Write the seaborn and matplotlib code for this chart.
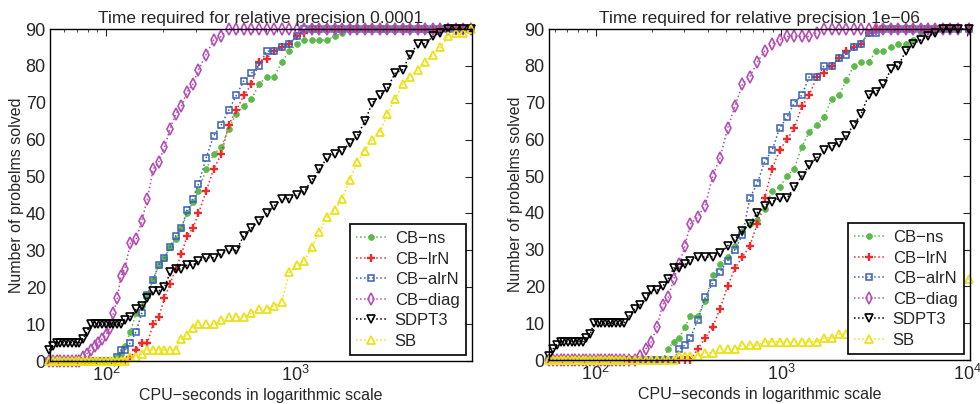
import matplotlib
matplotlib.use("Agg")
import matplotlib.pyplot as plt
import seaborn as sns

# CPU-time thresholds (seconds) at which the profiles were sampled
t_prec4 = [50.1, 52.5, 55.0, 57.5, 60.3, 63.1, 66.1, 69.2, 72.4, 75.9,
           79.4, 83.2, 87.1, 91.2, 95.5, 100, 104.7, 109.6, 114.8, 120.2,
           125.9, 134.9, 144.5, 154.9, 166.0, 177.8, 190.5, 204.2, 218.8, 234.4,
           251.2, 269.2, 288.4, 309.0, 338.8, 371.5, 407.4, 446.7, 489.8, 537.0,
           588.8, 645.7, 707.9, 776.2, 851.1, 933.3, 1023, 1122, 1230, 1349,
           1479, 1622, 1778, 1950, 2138, 2344, 2570, 2818, 3090, 3388,
           3715, 4074, 4467, 4898, 5370, 5888, 6457, 7079, 7762, 8511]
t_prec6 = [56.2, 58.9, 61.7, 64.6, 67.6, 70.8, 74.1, 77.6, 81.3, 85.1,
           89.1, 93.3, 97.7, 102.3, 107.2, 112.2, 117.5, 123.0, 128.8, 134.9,
           141.3, 151.4, 162.2, 173.8, 186.2, 199.5, 213.8, 229.1, 245.5, 263.0,
           281.8, 302.0, 323.6, 354.8, 389.0, 426.6, 467.7, 512.9, 562.3, 616.6,
           676.1, 741.3, 812.8, 891.3, 977.2, 1072, 1175, 1288, 1413, 1549,
           1698, 1862, 2042, 2239, 2455, 2692, 2951, 3236, 3548, 3890,
           4266, 4677, 5129, 5623, 6166, 6761, 7413, 8128, 8913, 10233]

names = ["CB−ns", "CB−lrN", "CB−alrN", "CB−diag", "SDPT3", "SB"]

# number of problems solved, precision 1e-4
ns_4 = [0]*18 + [1, 2, 4, 8, 13, 15, 18, 22, 26, 28, 31, 33, 36, 40, 43, 46, 52, 56,
                 58, 63, 67, 69, 71, 75, 77, 77, 81, 84, 86, 87, 87, 87, 87, 88, 89] + [90]*17
lrn_4 = [0]*21 + [1, 3, 5, 5, 10, 12, 17, 21, 25, 29, 34, 36, 40, 46, 52, 56, 64, 68,
                  72, 75, 81, 82, 84, 85, 86, 88, 89] + [90]*22
alrn_4 = [0]*18 + [1, 3, 3, 5, 8, 13, 18, 22, 26, 28, 31, 34, 36, 41, 44, 48, 55, 61,
                   64, 68, 72, 76, 78, 80, 84, 84, 85, 86, 88] + [90]*23
diag_4 = [0]*9 + [1, 2, 3, 4, 5, 6, 7, 9, 13, 17, 23, 25, 32, 33, 38, 44, 52, 54, 58,
                  63, 67, 69, 73, 75, 79, 83, 87, 88] + [90]*33
sdpt_4 = [3, 4, 5, 5, 5, 5, 5, 5, 5, 6, 8, 10, 10, 10, 10, 10, 10, 10, 10, 10,
          11, 12, 14, 15, 17, 19, 19, 20, 24, 25, 25, 26, 26, 27, 28, 28, 29, 30, 30, 34,
          36, 38, 40, 42, 44, 44, 45, 46, 49, 52, 55, 56, 57, 59, 61, 65, 70, 72, 74, 78,
          79, 83, 86, 86, 88, 89, 90, 90, 90, 90]
sb_4 = [0]*21 + [1, 1, 2, 3, 3, 3, 3, 3, 3, 6, 7, 9, 10, 10, 10, 11, 12, 12, 12, 13,
                 14, 14, 15, 16, 24, 26, 27, 31, 35, 39, 41, 44, 49, 54, 57, 60, 62, 67, 71,
                 75, 77, 79, 81, 83, 85, 88, 89, 89, 90]

# number of problems solved, precision 1e-6
ns_6 = [0]*28 + [3, 5, 6, 9, 12, 12, 16, 23, 26, 28, 31, 35, 37, 38, 41, 46, 47, 50,
                 52, 58, 62, 64, 66, 71, 72, 76, 80, 81, 81, 84, 84, 85, 86, 86, 87, 89] + [90]*6
lrn_6 = [0]*33 + [3, 6, 9, 14, 20, 25, 28, 31, 37, 44, 52, 57, 60, 63, 69, 72, 77, 78,
                  80, 82, 84, 85, 86, 89] + [90]*13
alrn_6 = [0]*30 + [3, 4, 6, 11, 17, 21, 24, 27, 30, 34, 44, 48, 54, 57, 63, 66, 70, 72,
                   77, 77, 80, 80, 82, 83, 85, 86, 89, 89] + [90]*12
diag_6 = [0]*23 + [1, 3, 5, 9, 15, 17, 22, 26, 31, 37, 39, 42, 50, 55, 63, 69, 75, 77,
                   81, 84, 86, 87, 88, 88, 88, 88, 89] + [90]*20
sdpt_6 = [1, 3, 4, 5, 5, 5, 5, 5, 5, 5, 6, 7, 10, 10, 10, 10, 10, 10, 10, 10,
          10, 12, 14, 15, 17, 19, 19, 20, 22, 25, 25, 26, 27, 28, 28, 28, 29, 31, 33, 35,
          37, 40, 42, 43, 44, 44, 47, 50, 53, 55, 57, 58, 59, 61, 64, 67, 72, 73, 75, 79,
          80, 84, 86, 87, 88, 89, 90, 90, 90, 90]
sb_6 = [0]*30 + [1, 1, 1, 1, 2, 2, 3, 3, 3, 4, 4, 4, 5, 5, 5, 5, 5, 5, 5, 5,
                 6, 6, 7, 7, 8, 9, 10, 10, 11, 12, 13, 14, 15, 16, 17, 18, 19, 20, 21, 22]

green, red, blue, magenta, yellow = "#5db94a", "#ee2a2a", "#3a60b5", "#b64fb3", "#ece21c"
styles = {
    "CB−ns": dict(color=green, marker="o", markersize=4.2, markerfacecolor=green,
                  markeredgecolor=green, markeredgewidth=0.5),
    "CB−lrN": dict(color=red, marker="+", markersize=5.5, markerfacecolor=red,
                   markeredgecolor=red, markeredgewidth=1.7),
    "CB−alrN": dict(color=blue, marker="s", markersize=4.2, markerfacecolor="none",
                    markeredgecolor=blue, markeredgewidth=1.1),
    "CB−diag": dict(color=magenta, marker="d", markersize=5.8, markerfacecolor="none",
                    markeredgecolor=magenta, markeredgewidth=1.2),
    "SDPT3": dict(color="black", marker="v", markersize=5.5, markerfacecolor="none",
                  markeredgecolor="black", markeredgewidth=1.2),
    "SB": dict(color=yellow, marker="^", markersize=5.5, markerfacecolor="none",
               markeredgecolor=yellow, markeredgewidth=1.3),
}

sns.set_style("white")
plt.rcParams["font.family"] = ["Liberation Sans", "DejaVu Sans"]
plt.rcParams["mathtext.fontset"] = "custom"
plt.rcParams["mathtext.rm"] = "Liberation Sans"
plt.rcParams["mathtext.it"] = "Liberation Sans"

fig = plt.figure(figsize=(9.8, 4.04), dpi=100)
ax1 = fig.add_axes([0.0510, 0.1064, 0.4306, 0.8218])
ax2 = fig.add_axes([0.5602, 0.1089, 0.4296, 0.8193])


def draw(ax, t, series, title, xlim):
    for name, vals in zip(names, series):
        sns.lineplot(x=t, y=vals, ax=ax, label=name, linestyle=":", linewidth=1.1,
                     errorbar=None, clip_on=False, **styles[name])
    ax.set_xscale("log")
    ax.set_xlim(*xlim)
    ax.set_ylim(0, 90)
    ax.set_yticks(range(0, 91, 10))
    ax.set_title(title, fontsize=12.5, pad=4)
    ax.set_xlabel("CPU−seconds in logarithmic scale", fontsize=11.5, labelpad=2)
    ax.set_ylabel("Number of probelms solved", fontsize=11.5, labelpad=1)
    ax.tick_params(which="both", direction="in", top=True, right=True, labelsize=13)
    ax.tick_params(which="major", length=5, width=0.8, pad=3)
    ax.tick_params(which="minor", length=2.5, width=0.6)
    for sp in ax.spines.values():
        sp.set_color("black")
        sp.set_linewidth(1.0)
    leg = ax.legend(loc="lower right", fontsize=12, frameon=True, fancybox=False,
                    framealpha=1, edgecolor="black", handlelength=1.8,
                    borderaxespad=0.35, labelspacing=0.33, borderpad=0.4,
                    handletextpad=0.5, numpoints=1)
    leg.get_frame().set_linewidth(1.2)


draw(ax1, t_prec4, [ns_4, lrn_4, alrn_4, diag_4, sdpt_4, sb_4],
     "Time required for relative precision 0.0001", (50.6, 8650))
draw(ax2, t_prec6, [ns_6, lrn_6, alrn_6, diag_6, sdpt_6, sb_6],
     "Time required for relative precision 1e−06", (56.0, 10375))

fig.savefig("out.png", dpi=100)
